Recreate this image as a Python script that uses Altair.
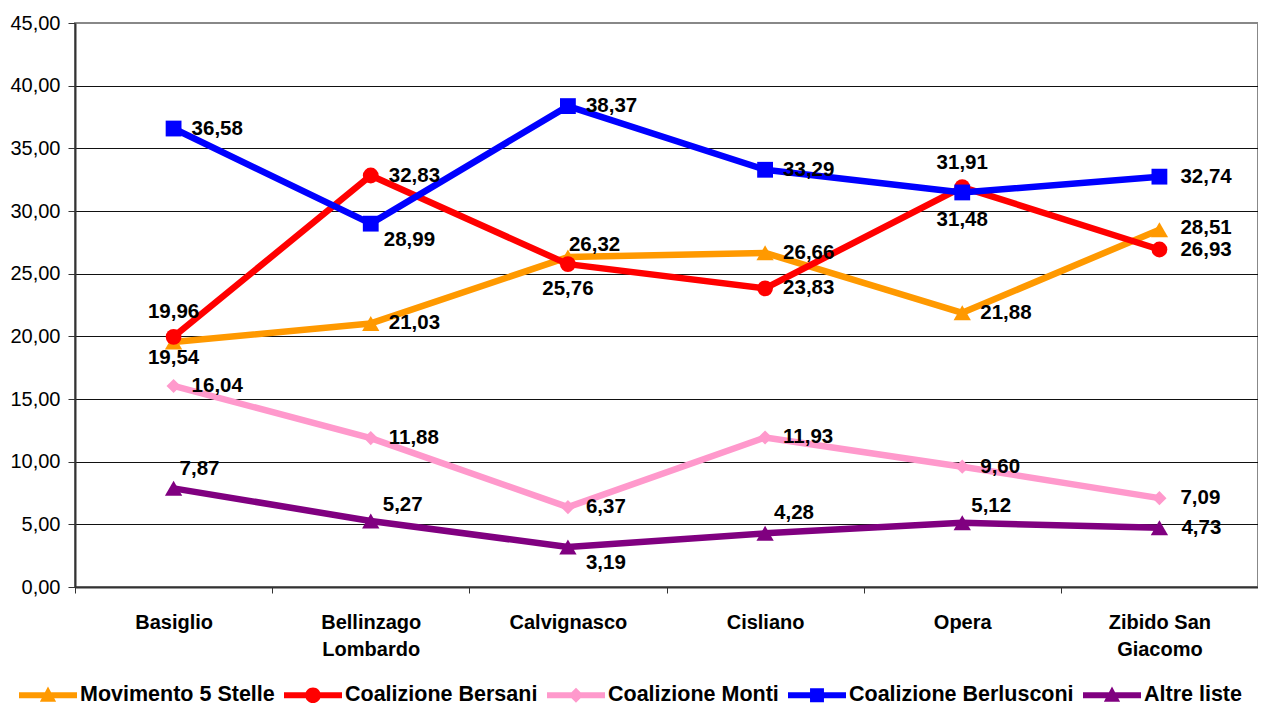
import altair as alt
import pandas as pd

categories = ["Basiglio", "Bellinzago Lombardo", "Calvignasco", "Cisliano", "Opera", "Zibido San Giacomo"]
series = ["Movimento 5 Stelle", "Coalizione Bersani", "Coalizione Monti", "Coalizione Berlusconi", "Altre liste"]
m5s = [19.54, 21.03, 26.32, 26.66, 21.88, 28.51]
bersani = [19.96, 32.83, 25.76, 23.83, 31.91, 26.93]
monti = [16.04, 11.88, 6.37, 11.93, 9.60, 7.09]
berlusconi = [36.58, 28.99, 38.37, 33.29, 31.48, 32.74]
altre = [7.87, 5.27, 3.19, 4.28, 5.12, 4.73]
values = [m5s, bersani, monti, berlusconi, altre]

colors = ["#FF9900", "#FF0000", "#FF99CC", "#0000FF", "#800080"]
shapes = ["triangle-up", "circle", "diamond", "square", "triangle-up"]
sizes = [300, 250, 200, 250, 300]

BAR = "M-1,-0.1 L1,-0.1 L1,0.1 L-1,0.1 Z "
legend_paths = [
    BAR + "M-0.28,0.22 L0,-0.3 L0.28,0.22 Z",
    BAR + "M-0.27,0 A0.27,0.27 0 1,1 0.27,0 A0.27,0.27 0 1,1 -0.27,0 Z",
    BAR + "M0,-0.26 L0.26,0 L0,0.26 L-0.26,0 Z",
    BAR + "M-0.24,-0.24 L0.24,-0.24 L0.24,0.24 L-0.24,0.24 Z",
    BAR + "M-0.28,0.22 L0,-0.3 L0.28,0.22 Z",
]

# label placement (dx, dy, align) per point
R = (18, 0, "left")
label_offsets = {
    "Movimento 5 Stelle": [(0, 16, "center"), R, (1, -12, "left"), R, R, (21, -2, "left")],
    "Coalizione Bersani": [(0, -25, "center"), R, (0, 25, "center"), R, (0, -24, "center"), (21, 1, "left")],
    "Coalizione Monti": [R, R, R, R, R, (21, 0, "left")],
    "Coalizione Berlusconi": [R, (13, 16, "left"), R, R, (0, 28, "center"), (21, 0, "left")],
    "Altre liste": [(6, -19, "left"), (12, -16, "left"), (18, 16, "left"), (9, -20, "left"), (9, -17, "left"), (22, 0, "left")],
}

rows = []
for s, vals in zip(series, values):
    for i, (c, v) in enumerate(zip(categories, vals)):
        dx, dy, al = label_offsets[s][i]
        rows.append({"cat": c, "series": s, "value": v, "key": f"{dx}|{dy}|{al}"})
df = pd.DataFrame(rows)

FONT = "Liberation Sans"

base = alt.Chart(df).encode(
    x=alt.X("cat:N", sort=categories,
            scale=alt.Scale(type="band", paddingInner=0, paddingOuter=0),
            axis=alt.Axis(title=None, labelAngle=0, tickBand="extent", grid=False,
                          labelFont=FONT, labelFontSize=20, labelFontWeight="bold",
                          labelColor="black", labelPadding=19, labelLineHeight=27,
                          tickSize=6, tickColor="#333", domainColor="#333", domainWidth=2,
                          labelExpr="split(replace(replace(datum.label,'Bellinzago ','Bellinzago|'),'San ','San|'),'|')")),
    y=alt.Y("value:Q", scale=alt.Scale(domain=[0, 45], nice=False, zero=True),
            axis=alt.Axis(title=None, values=list(range(0, 50, 5)),
                          labelExpr="replace(format(datum.value, '.2f'), '.', ',')",
                          labelFont=FONT, labelFontSize=20, labelColor="black", labelPadding=8,
                          tickSize=7, tickColor="#333", domainColor="#333", domainWidth=2,
                          gridColor={"condition": {"test": "datum.value == 45", "value": "#888888"}, "value": "#111111"},
                          gridWidth=1)),
)

layers = []
for s, col, shp, sz in zip(series, colors, shapes, sizes):
    layers.append(
        base.transform_filter(alt.datum.series == s).mark_line(
            color=col, strokeWidth=6.5, strokeJoin="round",
            point=alt.OverlayMarkDef(shape=shp, size=sz, filled=True, color=col, opacity=1),
        )
    )

keys = sorted(set(df["key"]))
for k in keys:
    dx, dy, al = k.split("|")
    layers.append(
        base.transform_filter(alt.datum.key == k)
        .transform_calculate(lbl="replace(format(datum.value, '.2f'), '.', ',')")
        .mark_text(dx=int(dx), dy=int(dy), align=al, baseline="middle", font=FONT,
                   fontSize=20.5, fontWeight="bold", color="black")
        .encode(text="lbl:N")
    )

leg = alt.Legend(title=None, orient="none", direction="horizontal", columns=5,
                 legendX=-56, legendY=643,
                 labelFont=FONT, labelFontSize=21.5, labelFontWeight="bold", labelColor="black",
                 symbolSize=3364, symbolStrokeWidth=0, labelOffset=3, columnPadding=9,
                 labelLimit=400)
legend_layer = base.mark_point(filled=True, size=0, opacity=1).encode(
    color=alt.Color("series:N", scale=alt.Scale(domain=series, range=colors), legend=leg),
    shape=alt.Shape("series:N", scale=alt.Scale(domain=series, range=legend_paths), legend=leg),
)
layers.append(legend_layer)

chart = alt.layer(*layers).properties(
    width=1183, height=564,
    autosize=alt.AutoSizeParams(type="none"),
    padding={"left": 67, "top": 15, "right": 0, "bottom": 119},
).configure_view(stroke="#888888", strokeWidth=2)

chart.save("out.html", embed_options={"renderer": "svg", "actions": False})
